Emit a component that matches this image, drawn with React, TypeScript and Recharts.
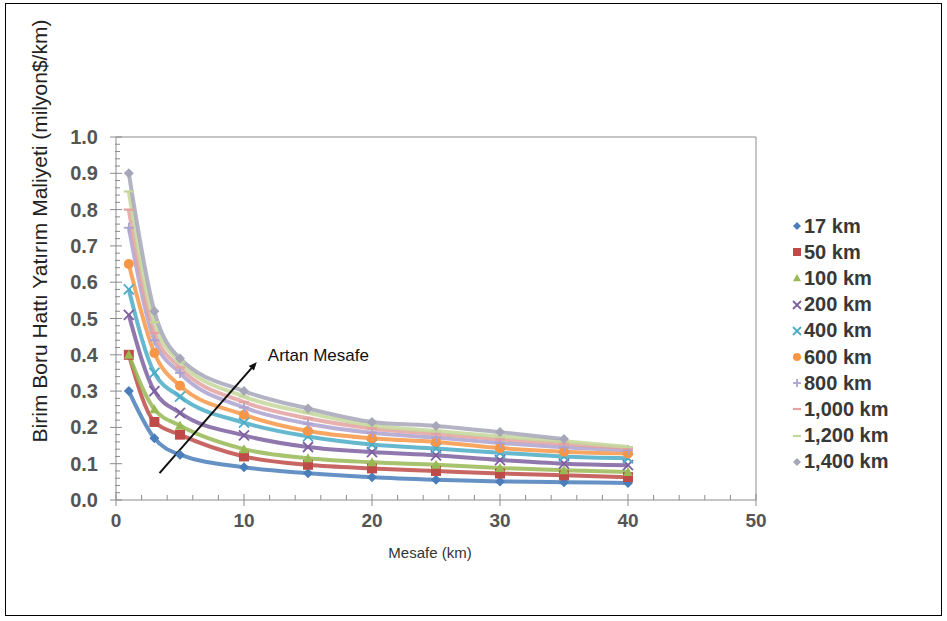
import { LineChart, Line, XAxis, YAxis, Legend, ReferenceLine } from "recharts";

// distance along the pipeline (km) and unit cost (million $/km) per line length
const distances = [1, 3, 5, 10, 15, 20, 25, 30, 35, 40];
const cost17 = [0.30, 0.17, 0.125, 0.09, 0.074, 0.063, 0.056, 0.051, 0.049, 0.047];
const cost50 = [0.40, 0.215, 0.18, 0.12, 0.097, 0.087, 0.08, 0.073, 0.068, 0.063];
const cost100 = [0.40, 0.25, 0.205, 0.14, 0.115, 0.104, 0.097, 0.088, 0.082, 0.077];
const cost200 = [0.51, 0.30, 0.24, 0.178, 0.146, 0.132, 0.123, 0.11, 0.10, 0.096];
const cost400 = [0.58, 0.35, 0.285, 0.213, 0.175, 0.153, 0.142, 0.13, 0.12, 0.115];
const cost600 = [0.65, 0.405, 0.315, 0.235, 0.19, 0.17, 0.16, 0.143, 0.133, 0.128];
const cost800 = [0.75, 0.44, 0.35, 0.255, 0.21, 0.185, 0.172, 0.157, 0.145, 0.137];
const cost1000 = [0.80, 0.46, 0.365, 0.27, 0.225, 0.197, 0.182, 0.167, 0.155, 0.143];
const cost1200 = [0.85, 0.49, 0.38, 0.285, 0.24, 0.205, 0.19, 0.175, 0.162, 0.146];
const cost1400 = [0.90, 0.52, 0.39, 0.30, 0.252, 0.215, 0.204, 0.187, 0.168, null];

const seriesNames = ["17 km", "50 km", "100 km", "200 km", "400 km", "600 km", "800 km", "1,000 km", "1,200 km", "1,400 km"];
const seriesValues = [cost17, cost50, cost100, cost200, cost400, cost600, cost800, cost1000, cost1200, cost1400];
const seriesColors = ["#4a7ebb", "#be4b48", "#98b954", "#7d60a0", "#4bacc6", "#f79646", "#aca2cf", "#e3a19f", "#c4d79b", "#a6a6b8"];
const seriesShapes = ["diamond", "square", "triangle", "cross", "cross", "circle", "plus", "dash", "dash", "diamond"];

const xTicks = [0, 2, 4, 6, 8, 10, 12, 14, 16, 18, 20, 22, 24, 26, 28, 30, 32, 34, 36, 38, 40, 42, 44, 46, 48, 50];
const yTicks = [0, 0.02, 0.04, 0.06, 0.08, 0.1, 0.12, 0.14, 0.16, 0.18, 0.2, 0.22, 0.24, 0.26, 0.28, 0.3, 0.32, 0.34, 0.36, 0.38, 0.4, 0.42, 0.44, 0.46, 0.48, 0.5, 0.52, 0.54, 0.56, 0.58, 0.6, 0.62, 0.64, 0.66, 0.68, 0.7, 0.72, 0.74, 0.76, 0.78, 0.8, 0.82, 0.84, 0.86, 0.88, 0.9, 0.92, 0.94, 0.96, 0.98, 1.0];

const rows = distances.map((d, i) => {
  const row: Record<string, number | null> = { x: d };
  seriesNames.forEach((n, s) => (row[n] = seriesValues[s][i]));
  return row;
});

const FONT = '"Liberation Sans", Arial, sans-serif';
const AXIS = "#8c8c8c";

function Marker({ shape, color, cx, cy, s = 5 }: { shape: string; color: string; cx: number; cy: number; s?: number }) {
  switch (shape) {
    case "diamond":
      return <polygon points={`${cx},${cy - s} ${cx + s},${cy} ${cx},${cy + s} ${cx - s},${cy}`} fill={color} />;
    case "square":
      return <rect x={cx - s} y={cy - s} width={s * 2} height={s * 2} fill={color} />;
    case "triangle":
      return <polygon points={`${cx},${cy - s} ${cx + s},${cy + s * 0.8} ${cx - s},${cy + s * 0.8}`} fill={color} />;
    case "cross":
      return (
        <g stroke={color} strokeWidth={1.8}>
          <line x1={cx - s} y1={cy - s} x2={cx + s} y2={cy + s} />
          <line x1={cx - s} y1={cy + s} x2={cx + s} y2={cy - s} />
        </g>
      );
    case "circle":
      return <circle cx={cx} cy={cy} r={s} fill={color} />;
    case "plus":
      return (
        <g stroke={color} strokeWidth={1.8}>
          <line x1={cx - s} y1={cy} x2={cx + s} y2={cy} />
          <line x1={cx} y1={cy - s} x2={cx} y2={cy + s} />
        </g>
      );
    default:
      return <line x1={cx - s} y1={cy} x2={cx + s} y2={cy} stroke={color} strokeWidth={2.2} />;
  }
}

const makeDot = (shape: string, color: string, name: string) => (props: any) => {
  const { cx, cy, index } = props;
  if (cx == null || cy == null || props.value == null) return <g key={`${name}-${index}`} />;
  return (
    <g key={`${name}-${index}`}>
      <Marker shape={shape} color={color} cx={cx} cy={cy} />
    </g>
  );
};

const isMajor = (v: number, step: number) => Math.abs(v / step - Math.round(v / step)) < 1e-6;

const YTick = (props: any) => {
  const { x, y, payload } = props;
  const v = payload.value as number;
  const major = isMajor(v, 0.1);
  return (
    <g>
      <line x1={major ? x - 6 : x - 1} x2={x + (major ? 6 : 4)} y1={y} y2={y} stroke={AXIS} />
      {major && (
        <text x={x - 18} y={y + 7} textAnchor="end" fontSize={20} fontWeight="bold" fill="#555" fontFamily={FONT}>
          {v.toFixed(1)}
        </text>
      )}
    </g>
  );
};

const XTick = (props: any) => {
  const { x, y, payload } = props;
  const v = payload.value as number;
  const major = isMajor(v, 10);
  return (
    <g>
      <line x1={x} x2={x} y1={y - (major ? 6 : 5)} y2={y + (major ? 6 : 0)} stroke={AXIS} />
      {major && (
        <text x={x} y={y + 27} textAnchor="middle" fontSize={19} fontWeight="bold" fill="#555" fontFamily={FONT}>
          {v}
        </text>
      )}
    </g>
  );
};

const ArrowShape = (props: any) => {
  const { x1, y1, x2, y2 } = props;
  if (x1 == null) return null;
  const a = Math.atan2(y2 - y1, x2 - x1);
  const h = 9;
  const p1 = `${x2 - h * Math.cos(a - 0.4)},${y2 - h * Math.sin(a - 0.4)}`;
  const p2 = `${x2 - h * Math.cos(a + 0.4)},${y2 - h * Math.sin(a + 0.4)}`;
  return (
    <g>
      <line x1={x1} y1={y1} x2={x2 - 3 * Math.cos(a)} y2={y2 - 3 * Math.sin(a)} stroke="#111" strokeWidth={2} />
      <polygon points={`${x2},${y2} ${p1} ${p2}`} fill="#111" />
      <text x={x2 + 11} y={y2 - 1} fontSize={17} fill="#111" fontFamily={FONT}>
        Artan Mesafe
      </text>
    </g>
  );
};

const renderLegend = () => (
  <div style={{ width: 150, fontFamily: FONT, fontSize: 20, fontWeight: "bold", color: "#383838" }}>
    {seriesNames.map((n, i) => (
      <div key={n} style={{ height: 26.2, display: "flex", alignItems: "center", whiteSpace: "nowrap" }}>
        <svg width={12} height={12} style={{ marginRight: 1 }}>
          <Marker shape={seriesShapes[i]} color={seriesColors[i]} cx={6} cy={6} s={4} />
        </svg>
        <span>{n}</span>
      </div>
    ))}
  </div>
);

export default function App() {
  return (
    <div style={{ position: "absolute", left: 0, top: 0, width: 947, height: 621, background: "#fff" }}>
      <div style={{ position: "absolute", left: 5, top: 3, width: 935, height: 611, border: "1px solid #000" }} />
      <LineChart width={947} height={621} data={rows} margin={{ top: 137, right: 41, bottom: 61, left: 0 }}>
        <XAxis
          dataKey="x"
          type="number"
          domain={[0, 50]}
          ticks={xTicks}
          interval={0}
          tick={<XTick />}
          tickLine={false}
          tickSize={0}
          tickMargin={0}
          height={60}
          stroke={AXIS}
          label={{
            content: () => (
              <text x={430} y={558} textAnchor="middle" fontSize={15} fill="#333" fontFamily={FONT}>
                Mesafe (km)
              </text>
            ),
          }}
        />
        <YAxis
          type="number"
          domain={[0, 1]}
          ticks={yTicks}
          interval={0}
          tick={<YTick />}
          tickLine={false}
          tickSize={0}
          tickMargin={0}
          width={116}
          stroke={AXIS}
          label={{
            content: () => (
              <text x={41} y={231} transform="rotate(-90 41 231)" textAnchor="middle" dominantBaseline="middle" fontSize={21} fill="#222" fontFamily={FONT}>
                Birim Boru Hattı Yatırım Maliyeti (milyon$/km)
              </text>
            ),
          }}
        />
        <ReferenceLine y={1} stroke={AXIS} />
        <ReferenceLine x={50} stroke={AXIS} />
        {seriesNames.map((n, i) => (
          <Line
            key={n}
            dataKey={n}
            name={n}
            type="monotone"
            stroke={seriesColors[i]}
            strokeWidth={4}
            strokeOpacity={0.85}
            dot={makeDot(seriesShapes[i], seriesColors[i], n)}
            activeDot={false}
            isAnimationActive={false}
          />
        ))}
        <ReferenceLine
          segment={[{ x: 3.4, y: 0.074 }, { x: 11, y: 0.38 }]}
          shape={<ArrowShape />}
          ifOverflow="visible"
        />
        <Legend
          layout="vertical"
          align="right"
          verticalAlign="top"
          content={renderLegend}
          wrapperStyle={{ left: 791, top: 213, right: "auto", width: 150 }}
        />
      </LineChart>
    </div>
  );
}
